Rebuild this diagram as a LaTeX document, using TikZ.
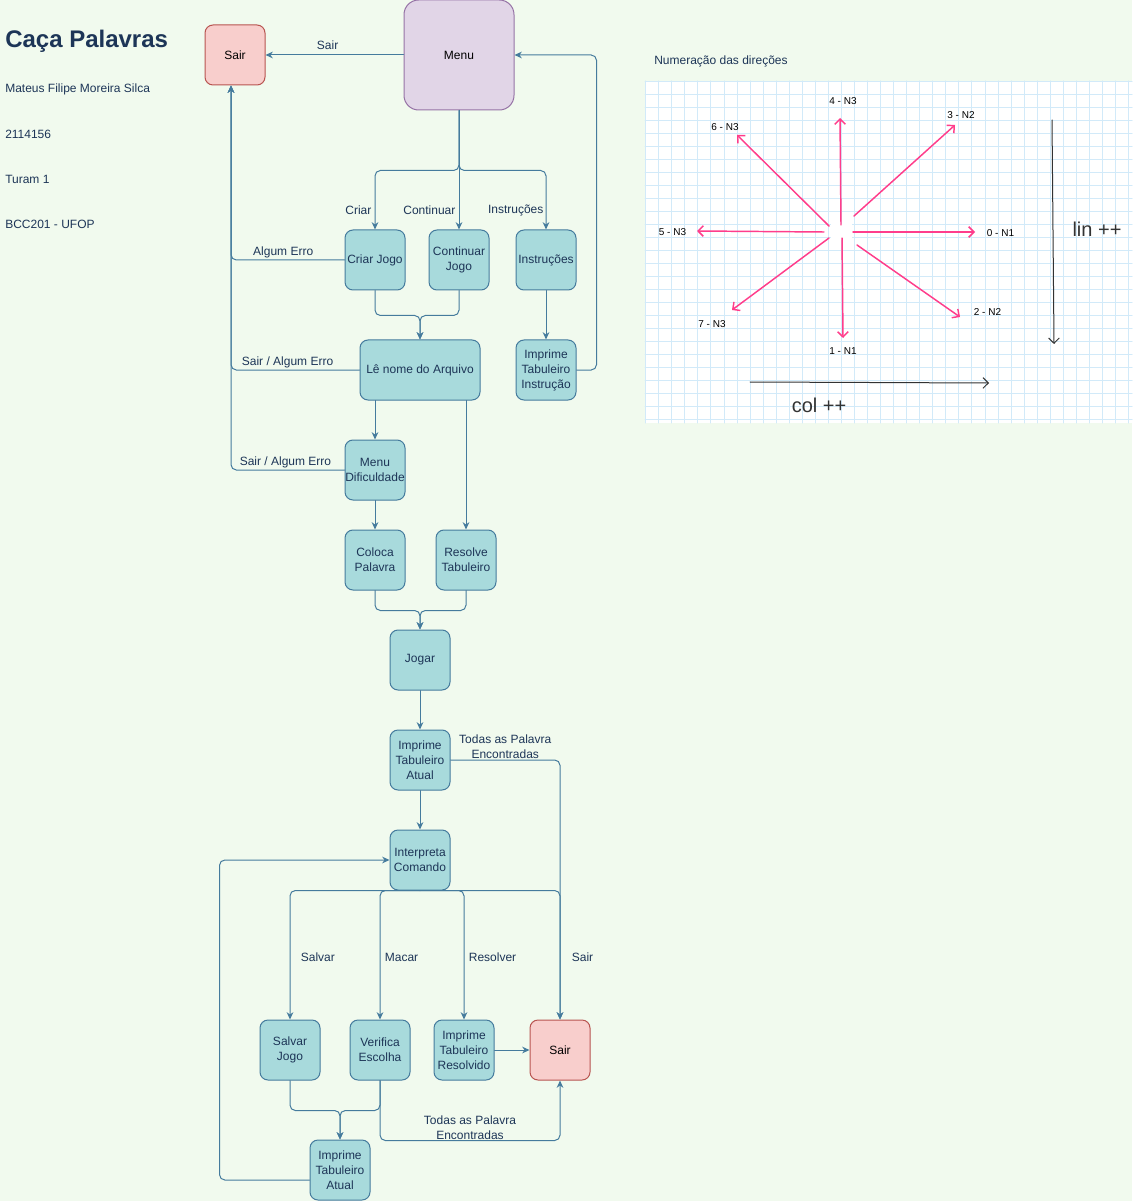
\documentclass[tikz,border=0pt]{standalone}
\usepackage{fontspec}
\setmainfont{Liberation Sans}
\usepackage{xcolor}
\usepackage{tikz}
\usetikzlibrary{arrows.meta,calc,positioning}
\definecolor{paper}{HTML}{F1FAEE}
\definecolor{tealfill}{HTML}{A8DADC}
\definecolor{steel}{HTML}{457B9D}
\definecolor{navy}{HTML}{1D3557}
\definecolor{exitfill}{HTML}{F8CECC}
\definecolor{exitline}{HTML}{B85450}
\definecolor{menufill}{HTML}{E1D5E7}
\definecolor{menuline}{HTML}{9673A6}
\definecolor{rose}{HTML}{FF3D8B}
\definecolor{gridblue}{HTML}{D2EAF9}
\definecolor{pencil}{HTML}{333333}

\begin{document}
\begin{tikzpicture}[x=0.75pt,y=-0.75pt,line cap=round,
  txt/.style={font=\fontsize{9}{11.25}\selectfont},
  box/.style={txt,draw=steel,line width=0.75pt,fill=tealfill,text=navy,rounded corners=6pt,
    minimum width=45pt,minimum height=45pt,inner sep=0pt,align=center},
  exitbox/.style={box,draw=exitline,fill=exitfill,text=black},
  menubox/.style={box,draw=menuline,fill=menufill,text=black,minimum width=82.5pt,minimum height=82.5pt,rounded corners=11pt},
  flow/.style={draw=steel,line width=0.75pt,rounded corners=4pt,-{Stealth[length=5.5pt,width=5pt]}},
  lbl/.style={txt,text=navy,inner sep=1pt,align=center},
  ray/.style={rose,line width=1.1pt,-{Straight Barb[length=4pt,width=8pt]}},
  dirlbl/.style={font=\fontsize{7.5}{9}\selectfont,text=black,inner sep=0pt},
  hand/.style={font=\fontsize{15}{15}\selectfont,text=pencil,inner sep=0pt}]
  \useasboundingbox (0,0) rectangle (1132,1201);
  \fill[paper] (0,0) rectangle (1132,1201);

  % cabecalho
  \node[anchor=west,font=\bfseries\fontsize{18}{20}\selectfont,text=navy,inner sep=0pt] (titulo) at (5,41.5) {Caça Palavras};
  \foreach \t/\y/\n in {Mateus Filipe Moreira Silca/89/autor,2114156/134/matricula,Turam 1/179/turma,BCC201 - UFOP/224/disciplina}{
     \node[txt,anchor=west,text=navy,inner sep=0pt] (\n) at (5,\y) {\t};
  }

  % fluxograma
  \node[exitbox] (sairtop) at (235,55) {Sair};
  \node[menubox] (menu) at (459,55) {Menu};
  \node[box] (criar) at (375,260) {Criar Jogo};
  \node[box] (continuar) at (459,260) {Continuar\\Jogo};
  \node[box] (instr) at (546,260) {Instruções};
  \node[box,minimum width=90pt] (lenome) at (420,370) {Lê nome do Arquivo};
  \node[box] (impinstr) at (546,370) {Imprime\\Tabuleiro\\Instrução};
  \node[box] (menudif) at (375,470) {Menu\\Dificuldade};
  \node[box] (coloca) at (375,560) {Coloca\\Palavra};
  \node[box] (resolve) at (466,560) {Resolve\\Tabuleiro};
  \node[box] (jogar) at (420,660) {Jogar};
  \node[box] (impatual) at (420,760) {Imprime\\Tabuleiro\\Atual};
  \node[box] (interp) at (420,860) {Interpreta\\Comando};
  \node[box] (salvar) at (290,1050) {Salvar\\Jogo};
  \node[box] (verifica) at (380,1050) {Verifica\\Escolha};
  \node[box] (impresol) at (464,1050) {Imprime\\Tabuleiro\\Resolvido};
  \node[exitbox] (sairfim) at (560,1050) {Sair};
  \node[box] (impatual2) at (340,1170) {Imprime\\Tabuleiro\\Atual};

  \coordinate (saida) at ($(sairtop.south)+(-4,0)$);

  \draw[flow] (menu) -- node[lbl,above,pos=0.55,yshift=2.5pt] (lsair) {Sair} (sairtop);
  \draw[flow] (menu.south) -- ++(0,60) -| (criar.north);
  \draw[flow] (menu.south) -- (continuar.north);
  \draw[flow] (menu.south) -- ++(0,60) -| (instr.north);
  \node[lbl,anchor=east] (lcriar) at ($(criar.north)+(-2,-19)$) {Criar};
  \node[lbl,anchor=east] (lcont) at ($(continuar.north)+(-2,-19)$) {Continuar};
  \node[lbl,anchor=east] (linstr) at ($(instr.north)+(-1,-19)$) {Instruções};

  \draw[flow] (criar.west) -| node[lbl,above,pos=0.27] (lerro1) {Algum Erro} (saida);
  \draw[flow] (lenome.west) -| node[lbl,above,pos=0.28] (lerro2) {Sair / Algum Erro} (saida);
  \draw[flow] (menudif.west) -| node[lbl,above,pos=0.26] (lerro3) {Sair / Algum Erro} (saida);

  \draw[flow] (criar.south) -- ++(0,25) -| (lenome.north);
  \draw[flow] (continuar.south) -- ++(0,25) -| (lenome.north);
  \draw[flow] (instr) -- (impinstr);
  \draw[flow] (impinstr.east) -- ++(20,0) |- (menu.east);
  \draw[flow] (lenome.south -| menudif.north) -- (menudif.north);
  \draw[flow] (lenome.south -| resolve.north) -- (resolve.north);
  \draw[flow] (menudif) -- (coloca);
  \draw[flow] (coloca.south) -- ++(0,20) -| (jogar.north);
  \draw[flow] (resolve.south) -- ++(0,20) -| (jogar.north);
  \draw[flow] (jogar) -- (impatual);
  \draw[flow] (impatual.east) -| node[lbl,above,pos=0.25,inner sep=0.5pt] (ltodas1) {Todas as Palavra\\Encontradas} (sairfim.north);
  \draw[flow] (impatual) -- (interp);

  \draw[flow] (interp.south) -| node[lbl,pos=0.75,anchor=west,xshift=9pt*0.75,yshift=-2pt] (lsalvar) {Salvar} (salvar.north);
  \draw[flow] (interp.south) -| node[lbl,pos=0.75,anchor=west,xshift=3pt*0.75,yshift=-2pt] (lmacar) {Macar} (verifica.north);
  \draw[flow] (interp.south) -| node[lbl,pos=0.75,anchor=west,xshift=3pt*0.75,yshift=-2pt] (lresolver) {Resolver} (impresol.north);
  \draw[flow] (interp.south) -| node[lbl,pos=0.75,anchor=west,xshift=10pt*0.75,yshift=-2pt] (lsair2) {Sair} (sairfim.north);
  \draw[flow] (impresol) -- (sairfim);

  \draw[flow] (salvar.south) -- ++(0,30) -| (impatual2.north);
  \draw[flow] (verifica.south) -- ++(0,30) -| (impatual2.north);
  \draw[flow] (verifica.south) -- ++(0,60) -| node[lbl,above,pos=0.25,inner sep=0.5pt] (ltodas2) {Todas as Palavra\\Encontradas} (sairfim.south);
  \draw[flow] ($(impatual2.west)+(0,10)$) -- ++(-90,0) |- (interp.west);

  % direcoes
  \node[txt,anchor=west,text=navy,inner sep=0pt] (numeracao) at (654,61) {Numeração das direções};
  \fill[white] (645,81) rectangle (1132,423);
  \foreach \gx in {645.7,658.75,...,1132}{
     \draw[gridblue,line width=0.75pt] (\gx,81) -- (\gx,423);
  }
  \foreach \gy in {81.7,94.7,...,423}{
     \draw[gridblue,line width=0.75pt] (645,\gy) -- (1132,\gy);
  }
  \fill[white] (831,224) rectangle (852,240);

  \draw[ray] (853,232) -- (975,232);
  \draw[ray] (842,238) -- (843,338);
  \draw[ray] (857,245) -- (960,317);
  \draw[ray] (854,216) -- (955,125);
  \draw[ray] (841,225) -- (840,118);
  \draw[ray] (824,232) -- (697,231);
  \draw[ray] (829,226) -- (737,135);
  \draw[ray] (829,238) -- (732,310);
  \foreach \t/\x/\y/\n in {0 - N1/1000.5/233/d0,1 - N1/843/351/d1,2 - N2/987.5/312/d2,3 - N2/961/115/d3,4 - N3/843/101/d4,5 - N3/672.5/232/d5,6 - N3/725/127/d6,7 - N3/712/324/d7}{
     \node[dirlbl] (\n) at (\x,\y) {\t};
  }
  \draw[pencil,line width=0.75pt,-{Straight Barb[length=4pt,width=8pt]}] (1052,120) -- (1054,344);
  \draw[pencil,line width=0.75pt,-{Straight Barb[length=4pt,width=8pt]}] (750,382) -- (989,383);
  \node[hand] (lin) at (1097,229) {lin ++};
  \node[hand] (col) at (819,405) {col ++};
\end{tikzpicture}
\end{document}
